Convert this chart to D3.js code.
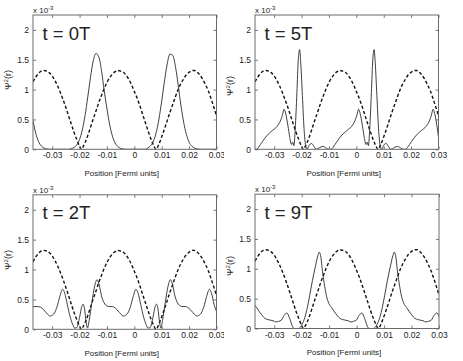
<!DOCTYPE html>
<html><head><meta charset="utf-8">
<script src="https://cdn.jsdelivr.net/npm/d3@7"></script>
<style>
body{margin:0;background:#fff}
svg{display:block}
text{font-family:"Liberation Sans",Arial,Helvetica,sans-serif;fill:#222}
</style>
</head><body>
<svg id="c" width="463" height="361"></svg>
<script>
// ---------- data ----------
const xTicks = [-0.03,-0.02,-0.01,0,0.01,0.02,0.03];
const yTicks = [0,0.5,1,1.5,2];
const panelTitles = ["t = 0T","t = 5T","t = 2T","t = 9T"];
const xLabel = "Position [Fermi units]";

// dashed curve (potential), same in every panel
const potX = [-0.037,-0.036,-0.035,-0.034,-0.033,-0.032,-0.031,-0.030,-0.029,-0.028,-0.027,-0.026,-0.025,-0.024,-0.023,-0.022,-0.021,-0.020,-0.0193,
 -0.019,-0.018,-0.017,-0.016,-0.015,-0.014,-0.013,-0.012,-0.011,-0.010,-0.009,-0.008,-0.007,-0.006,-0.005,-0.004,-0.003,-0.002,-0.001,0,0.001,0.002,0.003,0.004,0.005,0.006,0.007,0.0079,
 0.009,0.010,0.011,0.012,0.013,0.014,0.015,0.016,0.017,0.018,0.019,0.020,0.021,0.022,0.023,0.024,0.025,0.026,0.027,0.028,0.029,0.030];
const potY = [1.13,1.21,1.27,1.31,1.32,1.31,1.28,1.23,1.15,1.06,0.95,0.83,0.70,0.56,0.42,0.28,0.16,0.05,0,
 0.02,0.11,0.23,0.37,0.51,0.64,0.78,0.90,1.02,1.12,1.20,1.26,1.30,1.32,1.31,1.29,1.24,1.17,1.08,0.97,0.86,0.73,0.59,0.45,0.31,0.18,0.07,0,
 0.09,0.21,0.34,0.48,0.62,0.75,0.88,1.00,1.10,1.18,1.25,1.29,1.32,1.32,1.29,1.24,1.17,1.08,0.98,0.85,0.71,0.56];

// solid curves |psi|^2 (x, value in units of 1e-3)
const t0Points = [[-0.037,0.48],[-0.036,0.27],[-0.035,0.13],[-0.034,0.057],[-0.033,0.022],[-0.032,0.008],[-0.031,0],
 [-0.024,0],[-0.023,0.011],[-0.022,0.033],[-0.021,0.074],[-0.020,0.165],[-0.019,0.322],[-0.018,0.565],[-0.017,0.877],[-0.016,1.209],[-0.015,1.483],[-0.014,1.606],[-0.013,1.55],[-0.012,1.32],[-0.011,0.98],[-0.010,0.68],[-0.009,0.41],[-0.008,0.22],[-0.007,0.104],[-0.006,0.043],[-0.005,0.016],[-0.004,0.005],[-0.003,0],
 [0.004,0],[0.005,0.025],[0.006,0.063],[0.007,0.141],[0.008,0.283],[0.009,0.51],[0.010,0.81],[0.011,1.14],[0.012,1.43],[0.013,1.595],[0.014,1.575],[0.015,1.39],[0.016,1.08],[0.017,0.74],[0.018,0.456],[0.019,0.25],[0.020,0.12],[0.021,0.052],[0.022,0.02],[0.023,0.006],[0.024,0],[0.030,0]];

const t5Points = [[-0.037,0],[-0.0365,0],[-0.035,0.08],[-0.0335,0.18],[-0.032,0.26],[-0.0305,0.32],[-0.029,0.38],[-0.028,0.45],[-0.027,0.57],[-0.0264,0.67],[-0.0258,0.6],[-0.025,0.4],[-0.0243,0.2],[-0.0237,0.08],[-0.0232,0.12],[-0.0228,0.06],[-0.0223,0.35],[-0.0217,0.95],[-0.0212,1.5],[-0.0207,1.67],[-0.0203,1.45],[-0.0197,0.9],[-0.0191,0.35],[-0.0185,0.06],[-0.018,0],[-0.0173,0.06],[-0.0164,0.1],[-0.0155,0.05],[-0.0147,0],[-0.0133,0.03],[-0.0121,0.05],[-0.011,0.02],[-0.010,0],
 [-0.0093,0],[-0.0078,0.08],[-0.0063,0.18],[-0.0048,0.26],[-0.0033,0.32],[-0.0018,0.38],[-0.0008,0.45],[0.0002,0.57],[0.0008,0.67],[0.0014,0.6],[0.0022,0.4],[0.0029,0.2],[0.0035,0.08],[0.004,0.12],[0.0044,0.06],[0.0049,0.35],[0.0055,0.95],[0.006,1.5],[0.0065,1.67],[0.0069,1.45],[0.0075,0.9],[0.0081,0.35],[0.0087,0.06],[0.0092,0],[0.0099,0.06],[0.0108,0.1],[0.0117,0.05],[0.0125,0],[0.0139,0.03],[0.0151,0.05],[0.0162,0.02],[0.0172,0],
 [0.0179,0],[0.0194,0.08],[0.0209,0.18],[0.0224,0.26],[0.0239,0.32],[0.0254,0.38],[0.0264,0.45],[0.0274,0.57],[0.028,0.67],[0.0286,0.6],[0.0294,0.4],[0.030,0.2]];

const t2Points = [[-0.037,0.38],[-0.0355,0.38],[-0.0342,0.37],[-0.0332,0.33],[-0.0322,0.28],[-0.0312,0.23],[-0.0307,0.22],[-0.0302,0.23],[-0.0292,0.27],[-0.0282,0.38],[-0.0272,0.55],[-0.0262,0.67],[-0.0254,0.6],[-0.0245,0.42],[-0.0235,0.22],[-0.0225,0.08],[-0.0218,0.02],[-0.021,0.03],[-0.020,0.2],[-0.0192,0.38],[-0.0187,0.42],[-0.0182,0.35],[-0.0176,0.12],[-0.0171,0.02],[-0.0165,0.15],[-0.0155,0.45],[-0.0145,0.72],[-0.0136,0.83],[-0.0128,0.74],[-0.012,0.56],[-0.011,0.44],[-0.010,0.39],[-0.009,0.38],[-0.008,0.38],
 [-0.0074,0.37],[-0.0064,0.33],[-0.0054,0.28],[-0.0044,0.23],[-0.0039,0.22],[-0.0034,0.23],[-0.0024,0.27],[-0.0014,0.38],[-0.0004,0.55],[0.0006,0.67],[0.0014,0.6],[0.0023,0.42],[0.0033,0.22],[0.0043,0.08],[0.005,0.02],[0.0058,0.03],[0.0068,0.2],[0.0076,0.38],[0.0081,0.42],[0.0086,0.35],[0.0092,0.12],[0.0097,0.02],[0.0103,0.15],[0.0113,0.45],[0.0123,0.72],[0.0132,0.83],[0.014,0.74],[0.0148,0.56],[0.0158,0.44],[0.0168,0.39],[0.0178,0.38],[0.0188,0.38],
 [0.0194,0.37],[0.0204,0.33],[0.0214,0.28],[0.0224,0.23],[0.0229,0.22],[0.0234,0.23],[0.0244,0.27],[0.0254,0.38],[0.0264,0.55],[0.0274,0.67],[0.0282,0.6],[0.0291,0.42],[0.030,0.3]];

const t9Points = [[-0.037,0.39],[-0.0364,0.35],[-0.0354,0.28],[-0.0344,0.22],[-0.0334,0.17],[-0.0324,0.15],[-0.0314,0.14],[-0.0304,0.13],[-0.0294,0.11],[-0.0284,0.12],[-0.0274,0.14],[-0.0264,0.22],[-0.0254,0.26],[-0.0244,0.17],[-0.0234,0.04],[-0.0228,0],
 [-0.0211,0],[-0.0201,0.05],[-0.0191,0.15],[-0.0181,0.32],[-0.0171,0.55],[-0.0161,0.8],[-0.0151,1.02],[-0.0141,1.22],[-0.0136,1.28],[-0.0131,1.22],[-0.0124,0.95],[-0.0116,0.7],[-0.0109,0.53],[-0.0101,0.42],[-0.0091,0.35],[-0.0081,0.28],[-0.0071,0.22],[-0.0061,0.17],[-0.0051,0.15],[-0.0041,0.14],[-0.0031,0.13],[-0.0021,0.11],[-0.0011,0.12],[-0.0001,0.14],[0.0009,0.22],[0.0019,0.26],[0.0029,0.17],[0.0039,0.04],[0.0045,0],
 [0.0062,0],[0.0072,0.05],[0.0082,0.15],[0.0092,0.32],[0.0102,0.55],[0.0112,0.8],[0.0122,1.02],[0.0132,1.22],[0.0137,1.28],[0.0142,1.22],[0.0149,0.95],[0.0157,0.7],[0.0164,0.53],[0.0172,0.42],[0.0182,0.35],[0.0192,0.28],[0.0202,0.22],[0.0212,0.17],[0.0222,0.15],[0.0232,0.14],[0.0242,0.13],[0.0252,0.11],[0.0262,0.12],[0.0272,0.14],[0.0282,0.22],[0.0292,0.26],[0.030,0.2]];

// ---------- drawing ----------
const svg = d3.select("#c");
const defs = svg.append("defs");
defs.append("clipPath").attr("id","leftclip").append("rect").attr("x",0).attr("y",0).attr("width",224).attr("height",361);

const potPoints = d3.zip(potX, potY);
const panels = [
  {title:panelTitles[0], pts:t0Points, x:33,  y:15,    w:183.5, h:134.3, left:true,  ylx:11,  yly:80},
  {title:panelTitles[1], pts:t5Points, x:255, y:15,    w:183.5, h:134.3, left:false, ylx:233, yly:86},
  {title:panelTitles[2], pts:t2Points, x:33,  y:194.8, w:183.5, h:134.5, left:true,  ylx:11,  yly:260},
  {title:panelTitles[3], pts:t9Points, x:255, y:194.2, w:184,   h:134.3, left:false, ylx:233, yly:266}
];

const root = svg.append("g");
const leftG = root.append("g").attr("clip-path","url(#leftclip)");
const rightG = root.append("g");

panels.forEach((p,i)=>{
  const parent = p.left ? leftG : rightG;
  const g = parent.append("g").attr("transform",`translate(${p.x},${p.y})`);
  const xs = d3.scaleLinear().domain([-0.037,0.03]).range([0,p.w]);
  const ys = d3.scaleLinear().domain([0,2.25]).range([p.h,0]);
  const cid = "pc"+i;
  defs.append("clipPath").attr("id",cid).append("rect").attr("x",0).attr("y",-1).attr("width",p.w).attr("height",p.h+1);

  const line = d3.line().x(d=>xs(d[0])).y(d=>ys(d[1])).curve(d3.curveMonotoneX);
  const plot = g.append("g").attr("clip-path",`url(#${cid})`);
  plot.append("path").datum(potPoints).attr("d",line)
    .attr("fill","none").attr("stroke","#111").attr("stroke-width",1.4).attr("stroke-dasharray","3.2,2.2");
  plot.append("path").datum(p.pts).attr("d",line)
    .attr("fill","none").attr("stroke","#2a2a2a").attr("stroke-width",0.9);

  // axes (ticks inward)
  const fmt = d=>String(d);
  const ax = g.append("g").attr("transform",`translate(0,${p.h})`)
    .call(d3.axisBottom(xs).tickValues(xTicks).tickSize(-3).tickPadding(3).tickFormat(fmt));
  const ay = g.append("g")
    .call(d3.axisLeft(ys).tickValues(yTicks).tickSize(-3).tickPadding(4).tickFormat(fmt));
  const at = g.append("g")
    .call(d3.axisTop(xs).tickValues(xTicks).tickSize(-3).tickFormat(""));
  const ar = g.append("g").attr("transform",`translate(${p.w},0)`)
    .call(d3.axisRight(ys).tickValues(yTicks).tickSize(-3).tickFormat(""));
  [ax,ay,at,ar].forEach(a=>{
    a.select(".domain").remove();
    a.selectAll("line").attr("stroke","#555").attr("stroke-width",0.8);
    a.selectAll("text").attr("font-size","8.5px").attr("fill","#333")
      .attr("font-family","'Liberation Sans',Arial,sans-serif");
  });

  // frame
  g.append("rect").attr("x",0).attr("y",0).attr("width",p.w).attr("height",p.h)
    .attr("fill","none").attr("stroke","#6a6a6a").attr("stroke-width",1);

  // title inside axes
  g.append("text").attr("x",9.5).attr("y",24.5).attr("font-size","18.5px").attr("fill","#111").text(p.title);

  // exponent label
  const ex = g.append("text").attr("x",0).attr("y",-1.8).attr("font-size","8px").attr("fill","#333");
  ex.append("tspan").text("x 10");
  ex.append("tspan").attr("dy",-3.5).attr("font-size","6px").text("-3");

  // x label
  g.append("text").attr("x",p.w/2 - 3).attr("y",p.h+27).attr("text-anchor","middle")
    .attr("font-size","8px").attr("fill","#333").text(xLabel);
});

// y labels
panels.forEach(p=>{
  const t = svg.append("text").attr("transform",`translate(${p.ylx},${p.yly}) rotate(-90)`)
    .attr("text-anchor","middle").attr("font-size","9px").attr("fill","#333");
  t.append("tspan").text("\u03A8");
  t.append("tspan").attr("dy",-3.5).attr("font-size","6px").text("2");
  t.append("tspan").attr("dy",3.5).text("(r)");
});
</script>
</body></html>
